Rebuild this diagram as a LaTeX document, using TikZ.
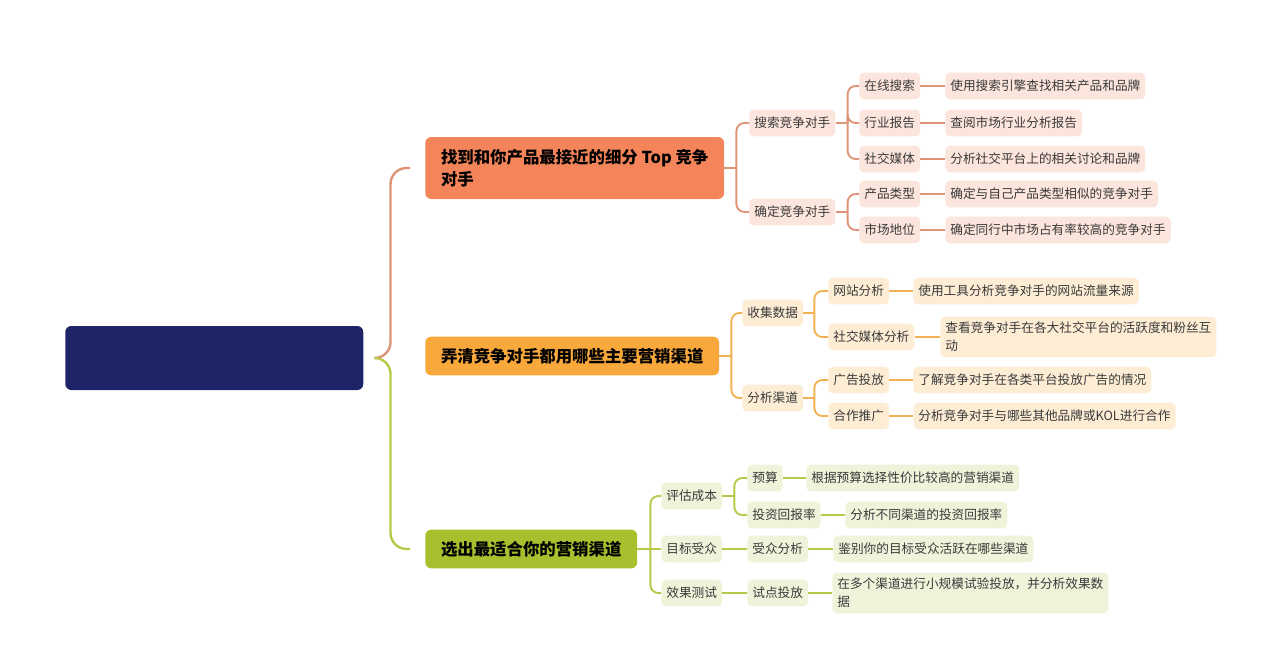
\documentclass[tikz,border=0pt]{standalone}
\usepackage{fontspec}
\setmainfont{Noto Sans CJK SC}
\usetikzlibrary{calc}

\definecolor{navy}{RGB}{31,36,104}
\definecolor{salmon}{RGB}{244,132,90}
\definecolor{amber}{RGB}{249,168,60}
\definecolor{olive}{RGB}{169,191,46}
\definecolor{salmonbg}{RGB}{252,229,220}
\definecolor{amberbg}{RGB}{253,237,213}
\definecolor{olivebg}{RGB}{239,243,218}
\definecolor{salmonln}{RGB}{222,148,118}
\definecolor{amberln}{RGB}{241,178,83}
\definecolor{oliveln}{RGB}{185,200,72}
\definecolor{ink}{RGB}{58,58,58}

\tikzset{
  main/.style={rectangle, rounded corners=4.5pt, anchor=west, inner xsep=11.8pt,
    inner ysep=4pt, minimum height=29pt, align=left,
    font=\fontsize{12.3}{16.5}\selectfont\bfseries, text=black},
  sub/.style={rectangle, rounded corners=3.5pt, anchor=west, inner xsep=3.8pt,
    inner ysep=3pt, minimum height=20pt, align=left,
    font=\fontsize{9.5}{13.5}\selectfont, text=ink},
}

\begin{document}
\begin{tikzpicture}[x=0.75pt, y=-0.75pt,
    c1/.style={draw=salmonln, line width=1.4pt, rounded corners=6pt},
    c2/.style={draw=amberln, line width=1.4pt, rounded corners=6pt},
    c3/.style={draw=oliveln, line width=1.4pt, rounded corners=6pt}]
\useasboundingbox (0,0) rectangle (1280,657);

% root
\node[rectangle, rounded corners=4.5pt, fill=navy, anchor=west,
    minimum width=223.5pt, minimum height=48pt] (root) at (65,358) {};

% first branch
\node[main, fill=salmon, minimum height=46.5pt] (b1) at (425,168)
    {找到和你产品最接近的细分 Top 竞争\\对手};
\node[sub, fill=salmonbg] (b1a) at (749,123) {搜索竞争对手};
\node[sub, fill=salmonbg] (b1b) at (749,212) {确定竞争对手};
\node[sub, fill=salmonbg] (b1a1) at (859,86) {在线搜索};
\node[sub, fill=salmonbg] (b1a2) at (859,123) {行业报告};
\node[sub, fill=salmonbg] (b1a3) at (859,159) {社交媒体};
\node[sub, fill=salmonbg] (b1b1) at (859,194) {产品类型};
\node[sub, fill=salmonbg] (b1b2) at (859,230) {市场地位};
\node[sub, fill=salmonbg] (t1a1) at (945,86) {使用搜索引擎查找相关产品和品牌};
\node[sub, fill=salmonbg] (t1a2) at (945,123) {查阅市场行业分析报告};
\node[sub, fill=salmonbg] (t1a3) at (945,159) {分析社交平台上的相关讨论和品牌};
\node[sub, fill=salmonbg] (t1b1) at (945,194) {确定与自己产品类型相似的竞争对手};
\node[sub, fill=salmonbg] (t1b2) at (945,230) {确定同行中市场占有率较高的竞争对手};

% second branch
\node[main, fill=amber] (b2) at (425,356) {弄清竞争对手都用哪些主要营销渠道};
\node[sub, fill=amberbg] (b2a) at (742,313) {收集数据};
\node[sub, fill=amberbg] (b2b) at (742,398) {分析渠道};
\node[sub, fill=amberbg] (b2a1) at (828,291) {网站分析};
\node[sub, fill=amberbg] (b2a2) at (828,337) {社交媒体分析};
\node[sub, fill=amberbg] (b2b1) at (828,380) {广告投放};
\node[sub, fill=amberbg] (b2b2) at (828,416) {合作推广};
\node[sub, fill=amberbg] (t2a1) at (913,291) {使用工具分析竞争对手的网站流量来源};
\node[sub, fill=amberbg, inner ysep=4pt] (t2a2) at (940,337)
    {查看竞争对手在各大社交平台的活跃度和粉丝互\\动};
\node[sub, fill=amberbg] (t2b1) at (913,380) {了解竞争对手在各类平台投放广告的情况};
\node[sub, fill=amberbg] (t2b2) at (913,416) {分析竞争对手与哪些其他品牌或KOL进行合作};

% third branch
\node[main, fill=olive] (b3) at (425,549) {选出最适合你的营销渠道};
\node[sub, fill=olivebg] (b3a) at (661,496) {评估成本};
\node[sub, fill=olivebg] (b3b) at (661,549) {目标受众};
\node[sub, fill=olivebg] (b3c) at (661,593) {效果测试};
\node[sub, fill=olivebg] (b3a1) at (747,478) {预算};
\node[sub, fill=olivebg] (b3a2) at (747,515) {投资回报率};
\node[sub, fill=olivebg] (b3b1) at (747,549) {受众分析};
\node[sub, fill=olivebg] (b3c1) at (747,593) {试点投放};
\node[sub, fill=olivebg] (t3a1) at (806,478) {根据预算选择性价比较高的营销渠道};
\node[sub, fill=olivebg] (t3a2) at (845,515) {分析不同渠道的投资回报率};
\node[sub, fill=olivebg] (t3b1) at (833,549) {鉴别你的目标受众活跃在哪些渠道};
\node[sub, fill=olivebg, inner ysep=4pt] (t3c1) at (832,593)
    {在多个渠道进行小规模试验投放，并分析效果数\\据};

% brace from the root
\coordinate (tip) at ($(root.east)+(13,0)$);
\coordinate (e1) at ($(b1.west)+(-15,0)$);
\coordinate (e3) at ($(b3.west)+(-15,0)$);
\draw[draw=salmonln, line width=1.8pt, rounded corners=12pt]
    (e1) -| ($(tip)+(14,0)$) -- (tip);
\draw[draw=oliveln, line width=1.8pt, rounded corners=12pt]
    (e3) -| ($(tip)+(14,0)$) -- (tip);

% first branch connectors
\draw[c1] (b1.east) -- ++(12,0);
\draw[c1] ($(b1.east)+(12,0)$) |- (b1a.west);
\draw[c1] ($(b1.east)+(12,0)$) |- (b1b.west);
\draw[c1] (b1a.east) -- ++(12,0);
\draw[c1] ($(b1a.east)+(12,0)$) |- (b1a1.west);
\draw[c1] ($(b1a.east)+(12,0)$) |- (b1a2.west);
\draw[c1] ($(b1a.east)+(12,0)$) |- (b1a3.west);
\draw[c1] (b1b.east) -- ++(12,0);
\draw[c1] ($(b1b.east)+(12,0)$) |- (b1b1.west);
\draw[c1] ($(b1b.east)+(12,0)$) |- (b1b2.west);
\draw[c1] (b1a1) -- (t1a1);
\draw[c1] (b1a2) -- (t1a2);
\draw[c1] (b1a3) -- (t1a3);
\draw[c1] (b1b1) -- (t1b1);
\draw[c1] (b1b2) -- (t1b2);

% second branch connectors
\draw[c2] (b2.east) -- ++(12,0);
\draw[c2] ($(b2.east)+(12,0)$) |- (b2a.west);
\draw[c2] ($(b2.east)+(12,0)$) |- (b2b.west);
\draw[c2] (b2a.east) -- ++(11,0);
\draw[c2] ($(b2a.east)+(11,0)$) |- (b2a1.west);
\draw[c2] ($(b2a.east)+(11,0)$) |- (b2a2.west);
\draw[c2] (b2b.east) -- ++(11,0);
\draw[c2] ($(b2b.east)+(11,0)$) |- (b2b1.west);
\draw[c2] ($(b2b.east)+(11,0)$) |- (b2b2.west);
\draw[c2] (b2a1) -- (t2a1);
\draw[c2] (b2a2) -- (t2a2);
\draw[c2] (b2b1) -- (t2b1);
\draw[c2] (b2b2) -- (t2b2);

% third branch connectors
\draw[c3] (b3.east) -- ++(13,0);
\draw[c3] ($(b3.east)+(13,0)$) |- (b3a.west);
\draw[c3] ($(b3.east)+(13,0)$) |- (b3c.west);
\draw[c3] (b3b.west) -- (b3.east);
\draw[c3] (b3a.east) -- ++(12,0);
\draw[c3] ($(b3a.east)+(12,0)$) |- (b3a1.west);
\draw[c3] ($(b3a.east)+(12,0)$) |- (b3a2.west);
\draw[c3] (b3b) -- (b3b1);
\draw[c3] (b3c) -- (b3c1);
\draw[c3] (b3a1) -- (t3a1);
\draw[c3] (b3a2) -- (t3a2);
\draw[c3] (b3b1) -- (t3b1);
\draw[c3] (b3c1) -- (t3c1);
\end{tikzpicture}
\end{document}
